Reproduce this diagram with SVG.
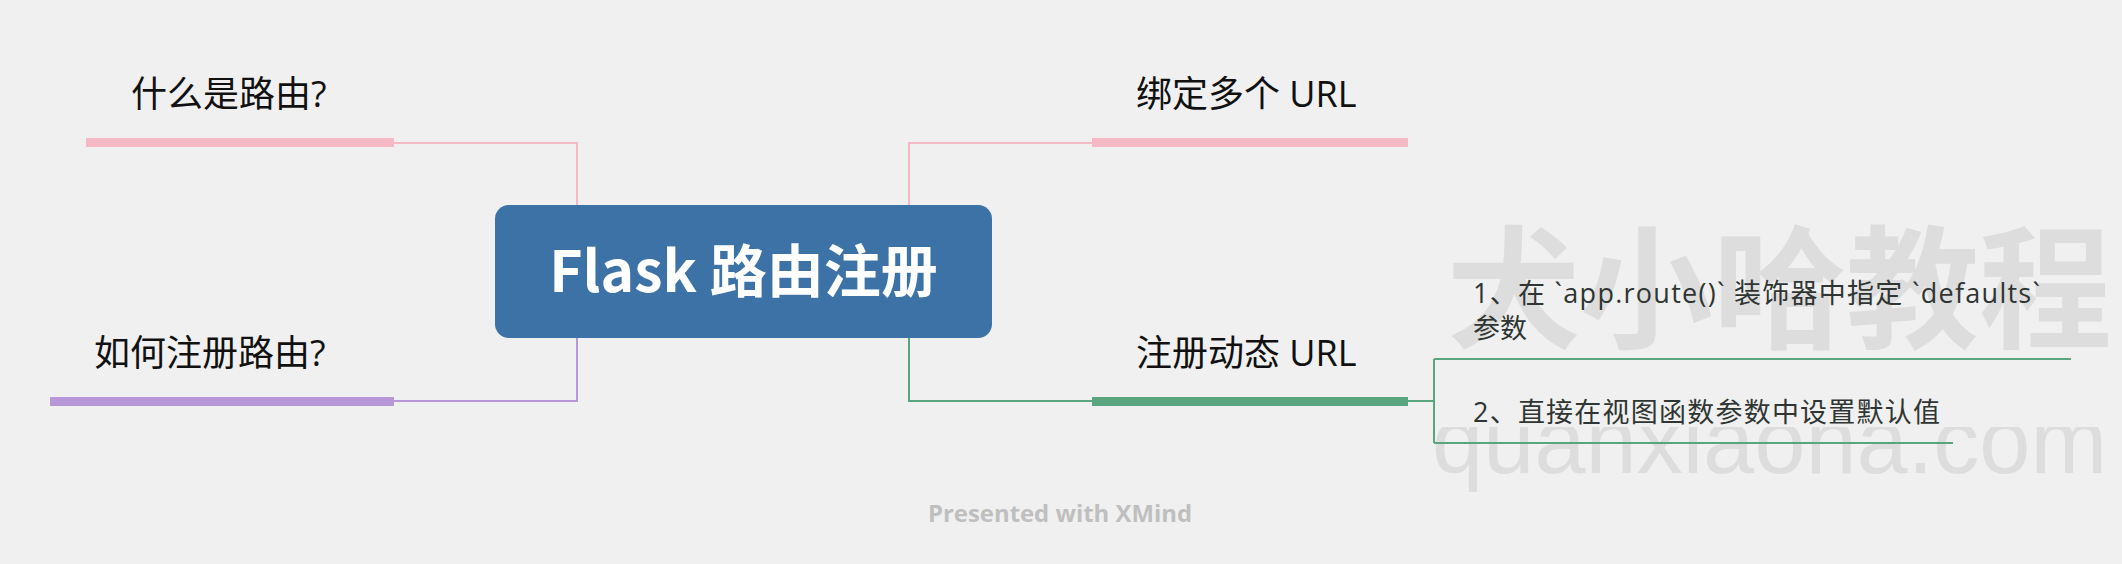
<svg xmlns="http://www.w3.org/2000/svg" width="2122" height="564" viewBox="0 0 2122 564">
  <style>
    .branch { font-family: "Open Sans", "Noto Sans CJK SC", sans-serif; font-size: 36px; fill: #111111; }
    .sub { font-family: "Open Sans", "Noto Sans CJK SC", sans-serif; font-size: 27px; fill: #2f3532; }
    .title { font-family: "Noto Sans CJK SC", sans-serif; font-size: 57px; font-weight: bold; fill: #ffffff; }
    .wm { fill: #dddddd; }
    .conn { fill: none; stroke-width: 2; }
  </style>
  <defs>
    <clipPath id="wmclip">
      <rect x="1400" y="427" width="722" height="137"/>
    </clipPath>
  </defs>
  <rect x="0" y="0" width="2122" height="564" fill="#f0f0f0"/>

  <g id="watermark">
    <text class="wm" x="1447" y="338" font-family="Noto Sans CJK SC, sans-serif" font-size="133" font-weight="bold">犬小哈教程</text>
    <text class="wm" x="1432" y="473" font-family="Liberation Sans, sans-serif" font-size="92" clip-path="url(#wmclip)">quanxiaoha.com</text>
  </g>

  <g id="connectors">
    <path class="conn" stroke="#f5b9c6" d="M394,143 H577 V205"/>
    <path class="conn" stroke="#b897d8" d="M394,401 H577 V338"/>
    <path class="conn" stroke="#f5b9c6" d="M1092,143 H909 V205"/>
    <path class="conn" stroke="#58a57f" d="M1092,401 H909 V338"/>
    <path class="conn" stroke="#58a57f" d="M1408,401 H1434"/>
    <path class="conn" stroke="#58a57f" d="M1434,359 V443"/>
  </g>

  <g id="central">
    <rect x="495" y="205" width="497" height="133" rx="14" ry="14" fill="#3c72a5"/>
    <text class="title" x="743.5" y="292" text-anchor="middle">Flask 路由注册</text>
  </g>

  <g id="topic-what">
    <text class="branch" x="131" y="107">什么是路由?</text>
    <rect x="86" y="138" width="308" height="9" fill="#f5b9c6"/>
  </g>

  <g id="topic-how">
    <text class="branch" x="94" y="366">如何注册路由?</text>
    <rect x="50" y="397" width="344" height="9" fill="#b897d8"/>
  </g>

  <g id="topic-multi">
    <text class="branch" x="1136" y="107">绑定多个 URL</text>
    <rect x="1092" y="138" width="316" height="9" fill="#f5b9c6"/>
  </g>

  <g id="topic-dynamic">
    <text class="branch" x="1136" y="366">注册动态 URL</text>
    <rect x="1092" y="397" width="316" height="9" fill="#58a57f"/>
  </g>

  <g id="sub-defaults">
    <text class="sub" x="1473" y="303" textLength="567" lengthAdjust="spacing">1、在 `app.route()` 装饰器中指定 `defaults`</text>
    <text class="sub" x="1473" y="338">参数</text>
    <line x1="1434" y1="359" x2="2071" y2="359" stroke="#58a57f" stroke-width="2"/>
  </g>

  <g id="sub-params">
    <text class="sub" x="1473" y="422" textLength="467" lengthAdjust="spacing">2、直接在视图函数参数中设置默认值</text>
    <line x1="1434" y1="443" x2="1953" y2="443" stroke="#58a57f" stroke-width="2"/>
  </g>

  <g id="footer">
    <text x="1060" y="522" text-anchor="middle" font-family="Open Sans, sans-serif" font-size="24" font-weight="bold" fill="#bfbfbf" textLength="264" lengthAdjust="spacingAndGlyphs">Presented with XMind</text>
  </g>
</svg>
